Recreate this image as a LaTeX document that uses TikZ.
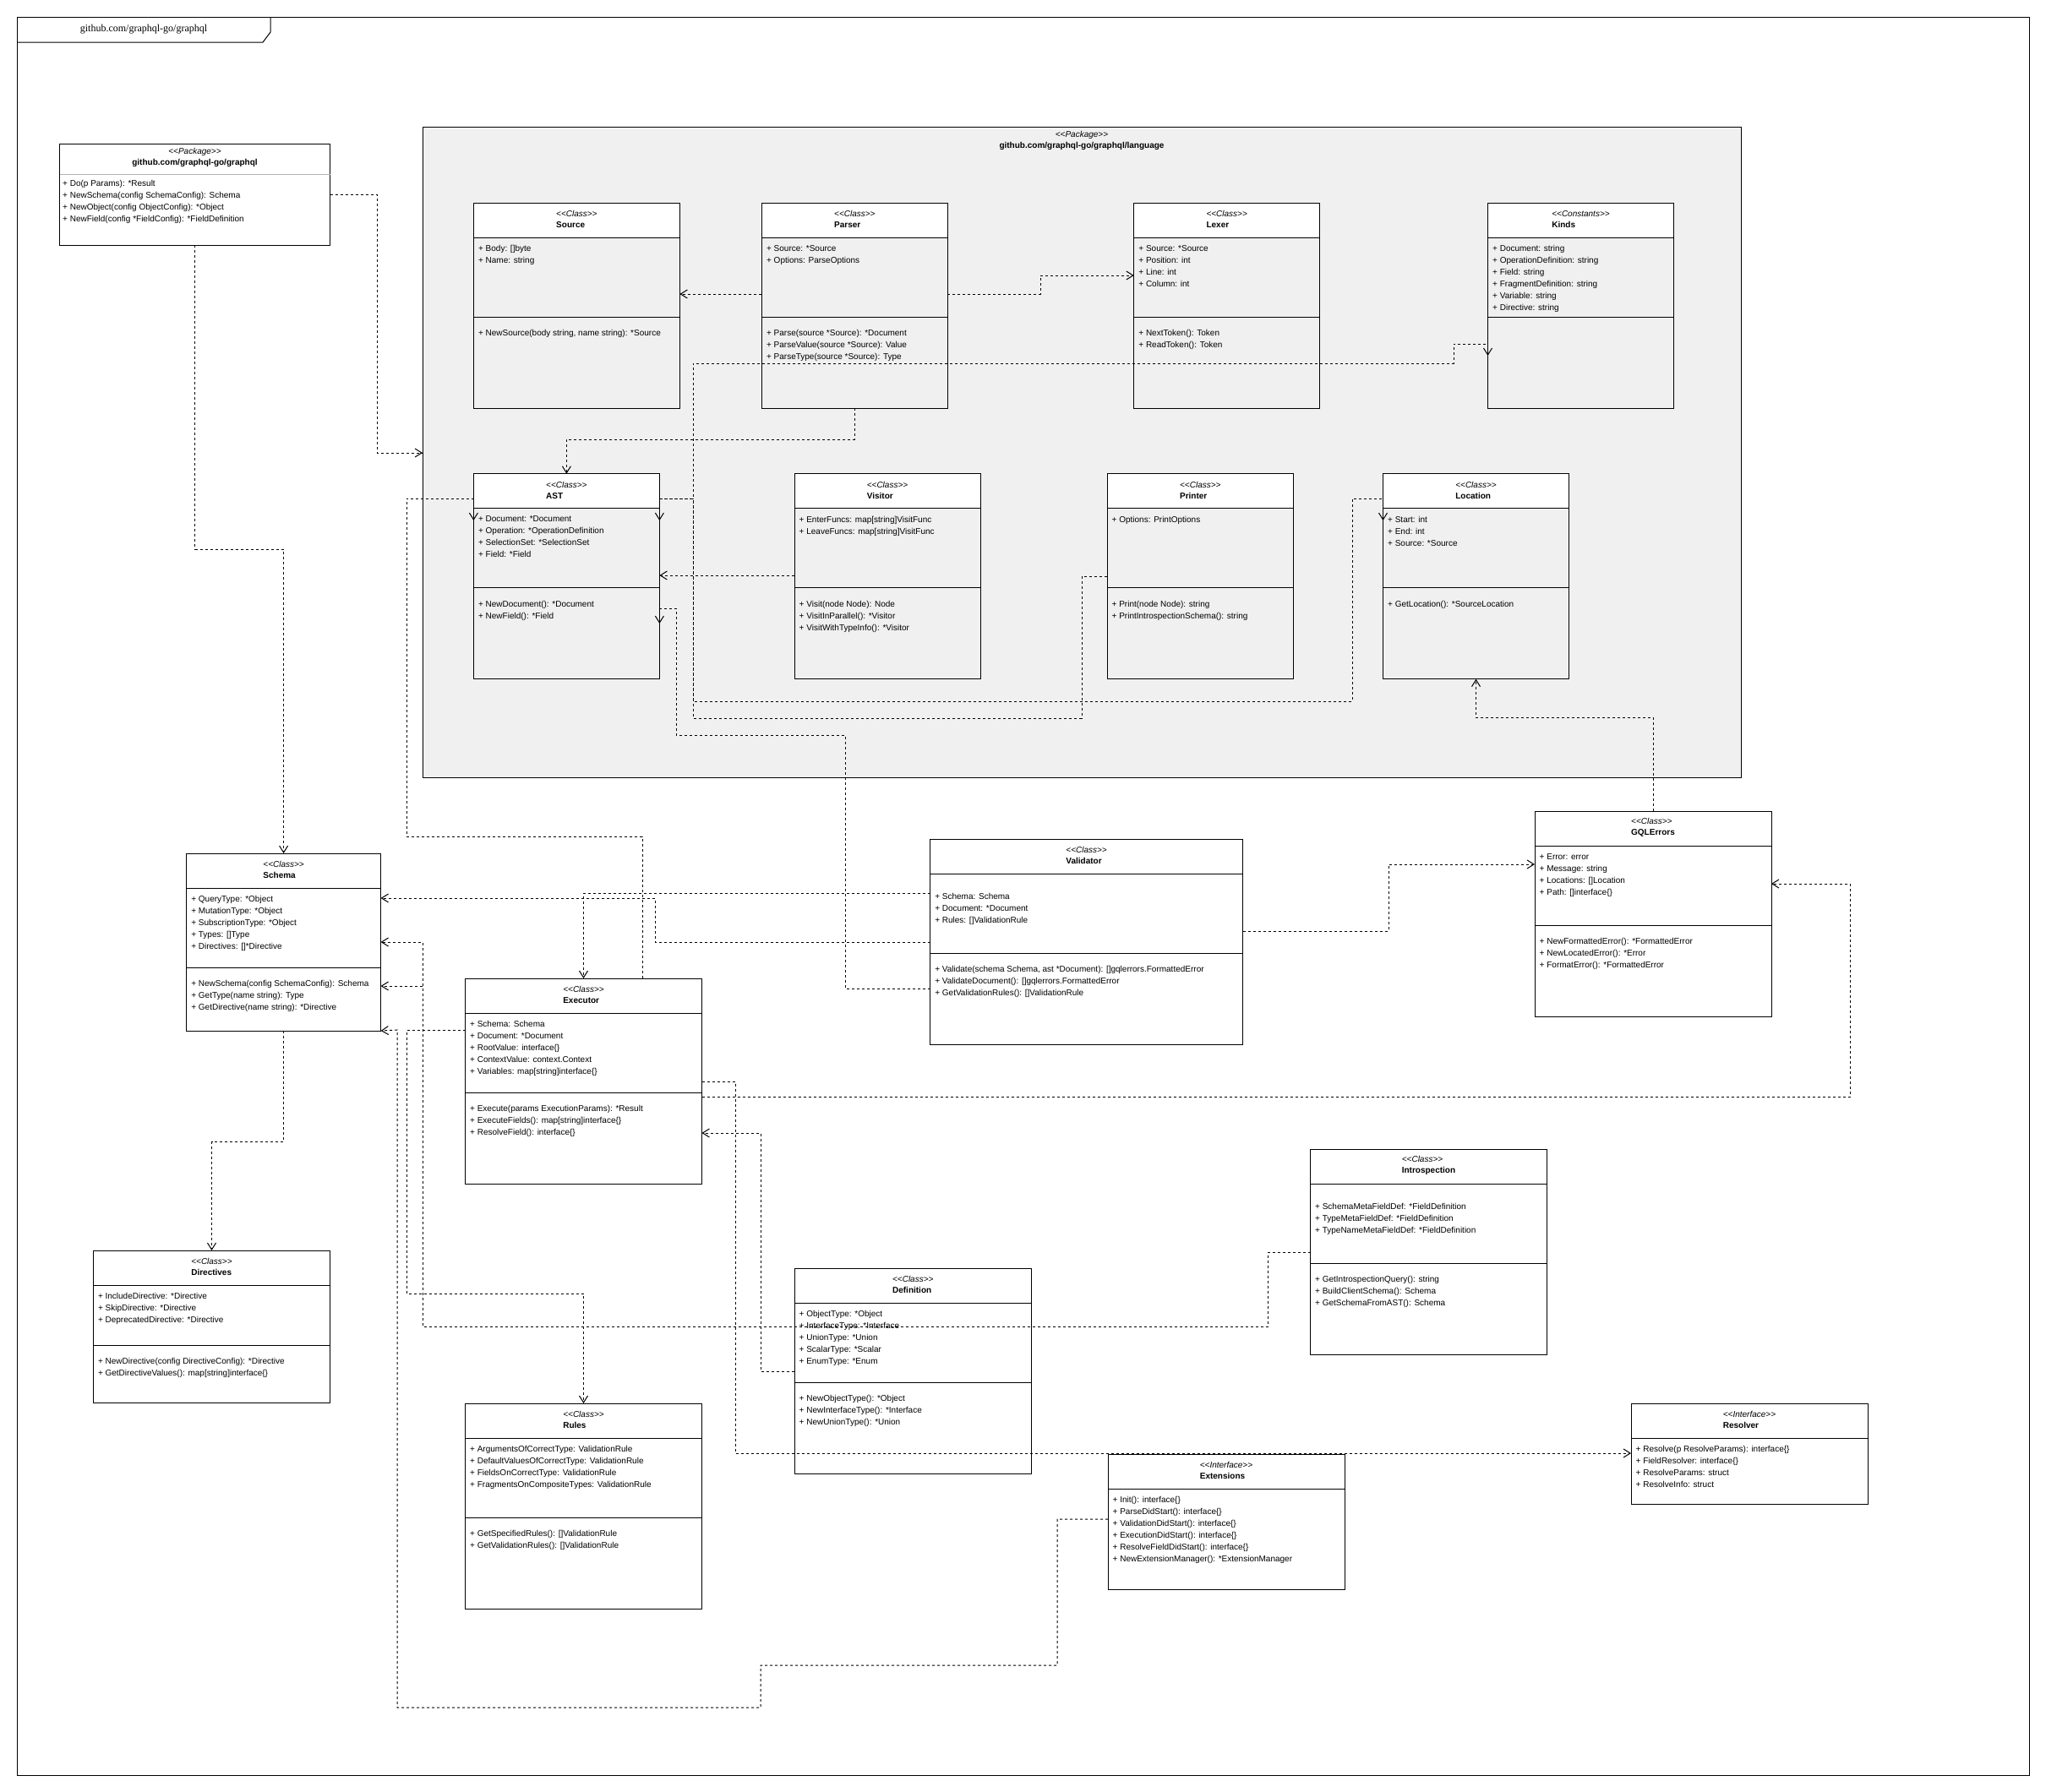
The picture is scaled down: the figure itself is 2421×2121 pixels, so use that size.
\documentclass[tikz,border=0pt]{standalone}
\usepackage{fontspec}
\newfontfamily\umlfont{Liberation Sans}
\newfontfamily\framefont{Liberation Serif}
\usetikzlibrary{arrows.meta}
\definecolor{pkgfill}{HTML}{F0F0F0}
\tikzset{
  clshead/.style={draw, line width=1pt, fill=white, minimum height=41pt, inner sep=0pt, outer sep=0pt},
  clsbody/.style={draw, line width=1pt, inner sep=0pt, outer sep=0pt},
  clstitle/.style={font=\umlfont\fontsize{10}{13}\selectfont, align=left, inner sep=0pt},
  clstext/.style={font=\umlfont\fontsize{10}{14}\selectfont, align=left, inner sep=0pt, anchor=north west},
  dep/.style={line width=1pt, dash pattern=on 3pt off 3pt, -{Straight Barb[length=8pt,width=10pt]}},
}
% name, corner, width, attr height, method height, stereotype, title, attrs, methods
\newcommand{\umlclass}[9]{%
  \node[clshead, minimum width=#3pt, anchor=north west] (#1) at (#2) {};
  \node[clstitle, yshift=1pt] (#1-t) at (#1.center) {\textit{<<#6>>}\\\textbf{#7}};
  \node[clsbody, minimum width=#3pt, minimum height=#4pt, anchor=north west] (#1-a) at (#1.south west) {};
  \node[clstext, xshift=5.5pt, yshift=-9pt] (#1-at) at (#1-a.north west) {#8};
  \ifdim#5pt>0pt
    \node[clsbody, minimum width=#3pt, minimum height=#5pt, anchor=north west] (#1-m) at (#1-a.south west) {};
    \node[clstext, xshift=5.5pt, yshift=-15pt] (#1-mt) at (#1-m.north west) {#9};
  \fi
}
\newcommand{\blankline}{\rule{0pt}{7.5pt}\\}
\begin{document}
\begin{tikzpicture}[x=1pt, y=-1pt]
  \useasboundingbox (0,0) rectangle (2421,2121);
  \node[clsbody, minimum width=2381pt, minimum height=2081pt, anchor=north west] (frame) at (20,20) {};
  \draw[line width=1pt] (frame.north west |- 0,50) -- (311,50) -- (320,38) -- (320,20);
  \node[font=\framefont\fontsize{12}{14}\selectfont] (frame-t) at (170,35) {github.com/graphql-go/graphql};

  \node[clsbody, minimum width=320pt, minimum height=120pt, anchor=north west] (pkg) at (70.5,170) {};
  \draw[line width=1pt, gray!60] (pkg.west |- 0,206) -- (pkg.east |- 0,206);
  \node[clstitle, align=center] (pkg-t) at (230.5,186.5) {\textit{<<Package>>}\\\textbf{github.com/graphql-go/graphql}};
  \node[clstext] (pkg-mt) at (74,213) {+ Do(p Params): *Result\\+ NewSchema(config SchemaConfig): Schema\\+ NewObject(config ObjectConfig): *Object\\+ NewField(config *FieldConfig): *FieldDefinition};

  \node[clsbody, fill=pkgfill, minimum width=1560pt, minimum height=770pt, anchor=north west] (lang) at (500,150) {};
  \node[clstitle, align=center] (lang-t) at (1280,166.5) {\textit{<<Package>>}\\\textbf{github.com/graphql-go/graphql/language}};

  \umlclass{source}{560.4,240}{244}{94}{108}{Class}{Source}{+ Body: []byte\\+ Name: string}{+ NewSource(body string, name string): *Source}
  \umlclass{parser}{901.4,240}{220}{94}{108}{Class}{Parser}{+ Source: *Source\\+ Options: ParseOptions}{+ Parse(source *Source): *Document\\+ ParseValue(source *Source): Value\\+ ParseType(source *Source): Type}
  \umlclass{lexer}{1341.7,240}{220}{94}{108}{Class}{Lexer}{+ Source: *Source\\+ Position: int\\+ Line: int\\+ Column: int}{+ NextToken(): Token\\+ ReadToken(): Token}
  \umlclass{kinds}{1760.5,240}{220}{94}{108}{Constants}{Kinds}{+ Document: string\\+ OperationDefinition: string\\+ Field: string\\+ FragmentDefinition: string\\+ Variable: string\\+ Directive: string}{}
  \umlclass{ast}{560.4,560.7}{220}{94}{108}{Class}{AST}{+ Document: *Document\\+ Operation: *OperationDefinition\\+ SelectionSet: *SelectionSet\\+ Field: *Field}{+ NewDocument(): *Document\\+ NewField(): *Field}
  \umlclass{visitor}{940,560.7}{220}{94}{108}{Class}{Visitor}{+ EnterFuncs: map[string]VisitFunc\\+ LeaveFuncs: map[string]VisitFunc}{+ Visit(node Node): Node\\+ VisitInParallel(): *Visitor\\+ VisitWithTypeInfo(): *Visitor}
  \umlclass{printer}{1310,560.7}{220.6}{94}{108}{Class}{Printer}{+ Options: PrintOptions}{+ Print(node Node): string\\+ PrintIntrospectionSchema(): string}
  \umlclass{location}{1636.5,560.7}{220}{94}{108}{Class}{Location}{+ Start: int\\+ End: int\\+ Source: *Source}{+ GetLocation(): *SourceLocation}

  \umlclass{schema}{220.6,1010}{230}{94}{75}{Class}{Schema}{+ QueryType: *Object\\+ MutationType: *Object\\+ SubscriptionType: *Object\\+ Types: []Type\\+ Directives: []*Directive}{+ NewSchema(config SchemaConfig): Schema\\+ GetType(name string): Type\\+ GetDirective(name string): *Directive}
  \umlclass{executor}{550.5,1158}{280}{94}{108}{Class}{Executor}{+ Schema: Schema\\+ Document: *Document\\+ RootValue: interface\{\}\\+ ContextValue: context.Context\\+ Variables: map[string]interface\{\}}{+ Execute(params ExecutionParams): *Result\\+ ExecuteFields(): map[string]interface\{\}\\+ ResolveField(): interface\{\}}
  \umlclass{validator}{1100.6,993}{370}{94}{108}{Class}{Validator}{\blankline+ Schema: Schema\\+ Document: *Document\\+ Rules: []ValidationRule}{+ Validate(schema Schema, ast *Document): []gqlerrors.FormattedError\\+ ValidateDocument(): []gqlerrors.FormattedError\\+ GetValidationRules(): []ValidationRule}
  \umlclass{gqlerrors}{1816,960}{280}{94}{108}{Class}{GQLErrors}{+ Error: error\\+ Message: string\\+ Locations: []Location\\+ Path: []interface\{\}}{+ NewFormattedError(): *FormattedError\\+ NewLocatedError(): *Error\\+ FormatError(): *FormattedError}
  \umlclass{directives}{110.3,1480}{280.4}{71}{68}{Class}{Directives}{+ IncludeDirective: *Directive\\+ SkipDirective: *Directive\\+ DeprecatedDirective: *Directive}{+ NewDirective(config DirectiveConfig): *Directive\\+ GetDirectiveValues(): map[string]interface\{\}}
  \umlclass{rules}{550.5,1661}{280}{94}{108}{Class}{Rules}{+ ArgumentsOfCorrectType: ValidationRule\\+ DefaultValuesOfCorrectType: ValidationRule\\+ FieldsOnCorrectType: ValidationRule\\+ FragmentsOnCompositeTypes: ValidationRule}{+ GetSpecifiedRules(): []ValidationRule\\+ GetValidationRules(): []ValidationRule}
  \umlclass{definition}{940,1501}{280.6}{94}{108}{Class}{Definition}{+ ObjectType: *Object\\+ InterfaceType: *Interface\\+ UnionType: *Union\\+ ScalarType: *Scalar\\+ EnumType: *Enum}{+ NewObjectType(): *Object\\+ NewInterfaceType(): *Interface\\+ NewUnionType(): *Union}
  \umlclass{intro}{1550.5,1360}{280}{94}{108}{Class}{Introspection}{\blankline+ SchemaMetaFieldDef: *FieldDefinition\\+ TypeMetaFieldDef: *FieldDefinition\\+ TypeNameMetaFieldDef: *FieldDefinition}{+ GetIntrospectionQuery(): string\\+ BuildClientSchema(): Schema\\+ GetSchemaFromAST(): Schema}
  \umlclass{extensions}{1311,1721}{280}{119}{0}{Interface}{Extensions}{+ Init(): interface\{\}\\+ ParseDidStart(): interface\{\}\\+ ValidationDidStart(): interface\{\}\\+ ExecutionDidStart(): interface\{\}\\+ ResolveFieldDidStart(): interface\{\}\\+ NewExtensionManager(): *ExtensionManager}{}
  \umlclass{resolver}{1930,1661}{280}{78}{0}{Interface}{Resolver}{+ Resolve(p ResolveParams): interface\{\}\\+ FieldResolver: interface\{\}\\+ ResolveParams: struct\\+ ResolveInfo: struct}{}

  \draw[dep] (pkg.east |- 0,230) -- (446,230) -- (446,536) -- (lang.west |- 0,536);
  \draw[dep] (pkg.south) -- (pkg.south |- 0,650) -- (schema.north |- 0,650) -- (schema.north);
  \draw[dep] (parser-a.west |- 0,348) -- (source-a.east |- 0,348);
  \draw[dep] (parser-a.east |- 0,348) -- (1231,348) -- (1231,326) -- (lexer-a.west |- 0,326);
  \draw[dep] (parser-m.south) -- (parser-m.south |- 0,520) -- (ast.north |- 0,520) -- (ast.north);
  \draw[dep] (ast.east |- 0,590) -- (820,590) -- (820,430) -- (1720,430) -- (1720,407) -- (kinds-m.west |- 0,407) -- (kinds-m.west |- 0,421);
  \draw[dep] (ast.east |- 0,590) -- (820,590) -- (820,830) -- (1600,830) -- (1600,590) -- (location.west |- 0,590) -- (location-a.west |- 0,616);
  \draw[dep] (printer-a.west |- 0,682) -- (1280,682) -- (1280,850) -- (820,850) -- (820,590) -- (ast.east |- 0,590) -- (ast-a.east |- 0,616);
  \draw[dep] (visitor-a.west |- 0,681) -- (ast-a.east |- 0,681);
  \draw[dep] (gqlerrors.north) -- (gqlerrors.north |- 0,849) -- (location-m.south |- 0,849) -- (location-m.south);
  \draw[dep] (validator-a.east |- 0,1102) -- (1643,1102) -- (1643,1023) -- (gqlerrors-a.west |- 0,1023);
  \draw[dep] (validator-a.west |- 0,1057) -- (executor.north |- 0,1057) -- (executor.north);
  \draw[dep] (validator-a.west |- 0,1115) -- (775,1115) -- (775,1063) -- (schema-a.east |- 0,1063);
  \draw[dep] (validator-m.west |- 0,1170) -- (1000,1170) -- (1000,870) -- (800,870) -- (800,720) -- (ast-m.east |- 0,720) -- (ast-m.east |- 0,738);
  \draw[dep] (executor.north -| 760,0) -- (760,990) -- (481,990) -- (481,590) -- (ast.west |- 0,590) -- (ast-a.west |- 0,616);
  \draw[dep] (executor-a.west |- 0,1219) -- (481,1219) -- (481,1531) -- (rules.north |- 0,1531) -- (rules.north);
  \draw[dep] (executor-m.east |- 0,1298) -- (2189,1298) -- (2189,1046) -- (gqlerrors-a.east |- 0,1046);
  \draw[dep] (executor-a.east |- 0,1280) -- (870,1280) -- (870,1720) -- (resolver-a.west |- 0,1720);
  \draw[dep] (intro-a.west |- 0,1482) -- (1500,1482) -- (1500,1570) -- (500,1570) -- (500,1115) -- (schema-a.east |- 0,1115);
  \draw[dep] (intro-a.west |- 0,1482) -- (1500,1482) -- (1500,1570) -- (500,1570) -- (500,1167) -- (schema-m.east |- 0,1167);
  \draw[dep] (definition-a.west |- 0,1623) -- (900,1623) -- (900,1341) -- (executor-m.east |- 0,1341);
  \draw[dep] (extensions-a.west |- 0,1798) -- (1251,1798) -- (1251,1971) -- (900,1971) -- (900,2021) -- (470,2021) -- (470,1219) -- (schema-m.south east);
  \draw[dep] (schema-m.south) -- (schema-m.south |- 0,1351) -- (directives.north |- 0,1351) -- (directives.north);
\end{tikzpicture}
\end{document}
